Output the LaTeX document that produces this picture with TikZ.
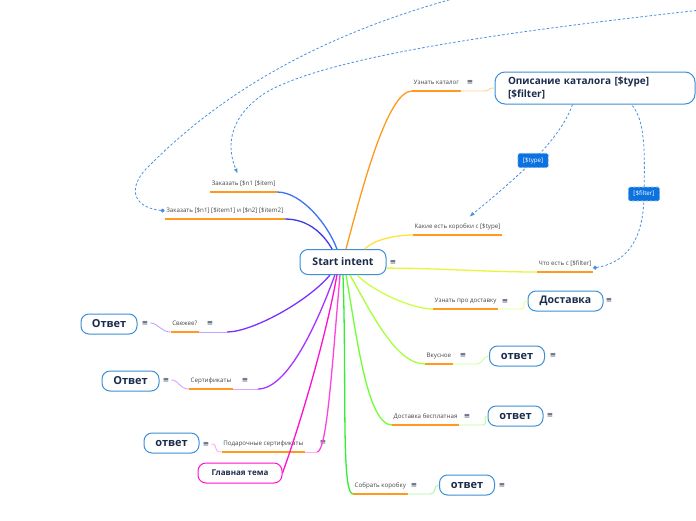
\documentclass[tikz,border=0pt]{standalone}
\usepackage{fontspec}
\setmainfont{Open Sans}
\newfontfamily\iconfont{DejaVu Sans}
\usepackage{tikz}
\usetikzlibrary{calc}
\usetikzlibrary{arrows.meta}

\definecolor{topicblue}{HTML}{3D8FD6}
\definecolor{topictext}{HTML}{1B2B4B}
\definecolor{tagblue}{HTML}{0B72E0}
\definecolor{relblue}{HTML}{4A90E2}
\definecolor{ulorange}{HTML}{FF9A1F}
\definecolor{brOrange}{HTML}{FF9A1F}
\definecolor{brBlue}{HTML}{3D72F8}
\definecolor{brIndigo}{HTML}{3B3BE8}
\definecolor{brYellow}{HTML}{FFE23A}
\definecolor{brLime}{HTML}{E8F53A}
\definecolor{brChart}{HTML}{CCFF44}
\definecolor{brGreenA}{HTML}{A6FF3D}
\definecolor{brGreenB}{HTML}{70FF33}
\definecolor{brGreenC}{HTML}{33EE33}
\definecolor{brPink}{HTML}{FF44DD}
\definecolor{brMagenta}{HTML}{FF10CC}
\definecolor{brViolet}{HTML}{AA33FF}
\definecolor{brPurple}{HTML}{7A33FF}

\begin{document}
\begin{tikzpicture}[x=1pt,y=1pt,
  topicnode/.style={draw=topicblue,line width=1pt,fill=white,rounded corners=8pt,text=topictext,
    font=\fontsize{11}{13}\selectfont\bfseries,inner xsep=4pt,minimum height=20pt},
  labelnode/.style={text=black!72,font=\fontsize{6.2}{7}\selectfont,inner xsep=1.5pt,inner ysep=5pt,
    text height=4.5pt,text depth=1.5pt},
  menunode/.style={text=topictext,font=\iconfont\fontsize{7.5}{7.5}\selectfont,inner sep=0pt},
  tagnode/.style={fill=tagblue,draw=tagblue!55,rounded corners=1.5pt,text=white,
    font=\fontsize{6.2}{7}\selectfont,inner xsep=5pt,inner ysep=4pt},
  branch/.style={line width=1.3pt},
  twig/.style={line width=0.9pt},
  uline/.style={ulorange,line width=1.6pt},
  relline/.style={relblue,line width=0.8pt,dash pattern=on 2.5pt off 2pt}]

\fill[white] (0,0) rectangle (696,-520);
\useasboundingbox (0,0) rectangle (696,-520);

% Set sizes of the answer boxes
\def\answ{55pt}
\def\ansh{20pt}

% Central topic
\node[topicnode,font=\fontsize{10.5}{12}\selectfont\bfseries,minimum width=86pt,minimum height=25pt] (Start) at (343,-262) {Start intent};
\node[menunode] (StartMenu) at (393,-262) {≡};

% Catalog
\node[labelnode,anchor=south west] (Catalog) at (412,-91) {Узнать каталог};
\node[menunode] (CatalogMenu) at (470,-82) {≡};
\node[topicnode,font=\fontsize{10}{13}\selectfont\bfseries,text width=174pt,align=left,inner xsep=13pt,
  minimum height=32pt,rounded corners=10pt] (CatalogDesc) at (595,-88) {Описание каталога [\$type]\\{}[\$filter]};
\draw[uline] (Catalog.south west) -- (Catalog.south east);
\draw[branch,brOrange] (Start.77) .. controls +(75:60) and +(180:25) .. (Catalog.south west);
\draw[twig,brOrange!45] (Catalog.south east) -- ++(22,0) .. controls +(0:8) and +(180:8) .. (CatalogDesc.west);

% Order one
\node[labelnode,anchor=south east] (OrderOne) at (277,-192) {Заказать [\$n1 [\$item]};
\draw[uline] (OrderOne.south west) -- (OrderOne.south east);
\draw[branch,brBlue] (Start.115) .. controls +(110:25) and +(0:25) .. (OrderOne.south east);

% Order two
\node[labelnode,anchor=south east] (OrderTwo) at (285,-219) {Заказать [\$n1] [\$item1] и [\$n2] [\$item2]};
\draw[uline] (OrderTwo.south west) -- (OrderTwo.south east);
\draw[branch,brIndigo] (Start.130) .. controls +(120:15) and +(0:25) .. (OrderTwo.south east);

% Boxes
\node[labelnode,anchor=south west] (Boxes) at (413,-235) {Какие есть коробки с [\$type]};
\draw[uline] (Boxes.south west) -- (Boxes.south east);
\draw[branch,brYellow] (Start.31) .. controls +(45:12) and +(180:20) .. (Boxes.south west);

% Filter
\node[labelnode,anchor=south west] (Filter) at (537,-272) {Что есть с [\$filter]};
\draw[uline] (Filter.south west) -- (Filter.south east);
\draw[branch,brLime] (Start.-8) .. controls +(0:50) and +(180:50) .. (Filter.south west);

% Delivery
\node[labelnode,anchor=south west] (Delivery) at (433,-309) {Узнать про доставку};
\node[menunode] (DeliveryMenu) at (505,-301) {≡};
\node[topicnode,minimum width=75pt,font=\fontsize{10.5}{12}\selectfont\bfseries] (DeliveryAns) at (565.5,-301) {Доставка};
\node[menunode] (DeliveryAnsMenu) at (609,-300) {≡};
\draw[uline] (Delivery.south west) -- (Delivery.south east);
\draw[branch,brChart] (Start.-43) .. controls +(-45:25) and +(180:20) .. (Delivery.south west);
\draw[twig,brChart!55] (Delivery.south east) -- ++(22,0) .. controls +(0:8) and +(180:8) .. (DeliveryAns.west);

% Tasty
\node[labelnode,anchor=south west] (Tasty) at (425,-364) {Вкусное};
\node[menunode] (TastyMenu) at (463,-355) {≡};
\node[topicnode,minimum width=\answ,minimum height=\ansh] (TastyAns) at (517,-356) {ответ};
\node[menunode] (TastyAnsMenu) at (553,-355) {≡};
\draw[uline] (Tasty.south west) -- (Tasty.south east);
\draw[branch,brGreenA] (Start.-62) .. controls +(-60:40) and +(180:30) .. (Tasty.south west);
\draw[twig,brGreenA!55] (Tasty.south east) -- ++(24,0) .. controls +(0:6) and +(180:6) .. (TastyAns.west);

% Free delivery
\node[labelnode,anchor=south west] (FreeDelivery) at (392,-425) {Доставка бесплатная};
\node[menunode] (FreeDeliveryMenu) at (467,-416) {≡};
\node[topicnode,minimum width=\answ,minimum height=\ansh] (FreeAns) at (515.5,-416) {ответ};
\node[menunode] (FreeAnsMenu) at (550,-415) {≡};
\draw[uline] (FreeDelivery.south west) -- (FreeDelivery.south east);
\draw[branch,brGreenB] (Start.-77) .. controls +(-80:60) and +(180:25) .. (FreeDelivery.south west);
\draw[twig,brGreenB!50] (FreeDelivery.south east) -- ++(24,0) .. controls +(0:6) and +(180:6) .. (FreeAns.west);

% Build a box
\node[labelnode,anchor=south west] (Build) at (353,-494) {Собрать коробку};
\node[menunode] (BuildMenu) at (414,-485) {≡};
\node[topicnode,minimum width=\answ,minimum height=\ansh] (BuildAns) at (467,-485) {ответ};
\node[menunode] (BuildAnsMenu) at (502,-485) {≡};
\draw[uline] (Build.south west) -- (Build.south east);
\draw[branch,brGreenC] (Start.-90) .. controls +(-88:110) and +(180:12) .. (Build.south west);
\draw[twig,brGreenC!45] (Build.south east) -- ++(23,0) .. controls +(0:6) and +(180:6) .. (BuildAns.west);

% Fresh
\node[labelnode,anchor=south east] (Fresh) at (199,-332) {Свежее?};
\node[menunode] (FreshMenu) at (210,-323) {≡};
\node[topicnode,minimum width=56pt,minimum height=\ansh] (FreshAns) at (109,-324) {Ответ};
\node[menunode] (FreshAnsMenu) at (145,-323) {≡};
\draw[uline] (Fresh.south west) -- (Fresh.south east);
\draw[twig,brPurple!45] (Fresh.south east) -- ++(28,0) coordinate (FreshEnd);
\draw[branch,brPurple] (Start.-135) .. controls +(-130:35) and +(0:25) .. (FreshEnd);
\draw[twig,brPurple!45] (Fresh.south west) .. controls +(180:10) and +(0:8) .. ($(FreshAnsMenu.east)+(2,0)$);

% Certificates
\node[labelnode,anchor=south east] (Certs) at (233,-389) {Сертификаты};
\node[menunode] (CertsMenu) at (245,-380) {≡};
\node[topicnode,minimum width=57pt,minimum height=\ansh] (CertsAns) at (130.5,-381) {Ответ};
\node[menunode] (CertsAnsMenu) at (166,-380) {≡};
\draw[uline] (Certs.south west) -- (Certs.south east);
\draw[twig,brViolet!45] (Certs.south east) -- ++(25,0) coordinate (CertsEnd);
\draw[branch,brViolet] (Start.-122) .. controls +(-110:50) and +(0:30) .. (CertsEnd);
\draw[twig,brViolet!45] (Certs.south west) .. controls +(180:10) and +(0:8) .. ($(CertsAnsMenu.east)+(2,0)$);

% Gift certificates
\node[labelnode,anchor=south east] (Gift) at (305,-452) {Подарочные сертификаты};
\node[menunode] (GiftMenu) at (323,-442) {≡};
\node[topicnode,minimum width=\answ,minimum height=\ansh] (GiftAns) at (171.5,-443) {ответ};
\node[menunode] (GiftAnsMenu) at (206,-444) {≡};
\draw[uline] (Gift.south west) -- (Gift.south east);
\draw[twig,brPink!45] (Gift.south east) -- ++(12,0) coordinate (GiftEnd);
\draw[branch,brPink] (Start.-103) .. controls +(-95:90) and +(0:10) .. (GiftEnd);
\draw[twig,brPink!45] (Gift.south west) .. controls +(180:10) and +(0:8) .. ($(GiftAnsMenu.east)+(2,0)$);

% Main topic
\node[topicnode,draw=brMagenta,font=\fontsize{8}{10}\selectfont\bfseries,minimum width=84pt,minimum height=\ansh] (MainTopic) at (240,-473) {Главная тема};
\draw[branch,brMagenta] (Start.-115) .. controls +(-100:70) and +(70:40) .. (MainTopic.east);

% Relationships
\draw[relline,-{Latex[length=5pt,width=4pt]}] ($(CatalogDesc.south west)+(78,0)$) .. controls (560,-140) and (520,-175) .. node[tagnode,pos=0.52] (TypeTag) {[\$type]} ($(Boxes.north)+(12,2)$);
\draw[relline,{Circle[length=4pt]}-] ($(Filter.south east)+(0,4)$) .. controls (630,-262) and (644,-235) .. (644,-194) node[tagnode] (FilterTag) {[\$filter]} .. controls (645,-150) and (645,-120) .. ($(CatalogDesc.south west)+(137,0)$);
\coordinate (OffTop) at (560,25);
\draw[relline,{Circle[length=4pt]}-] (OrderTwo.west) .. controls (130,-207) and (128,-185) .. (150,-165) .. controls (215,-100) and (330,-15) .. (OffTop);
\coordinate (OffRight) at (710,-9);
\draw[relline,-{Latex[length=5pt,width=4pt]}] (OffRight) .. controls (520,-30) and (330,-55) .. (265,-93) .. controls (225,-120) and (228,-150) .. ($(OrderOne.north)+(-6,2)$);

\end{tikzpicture}
\end{document}
